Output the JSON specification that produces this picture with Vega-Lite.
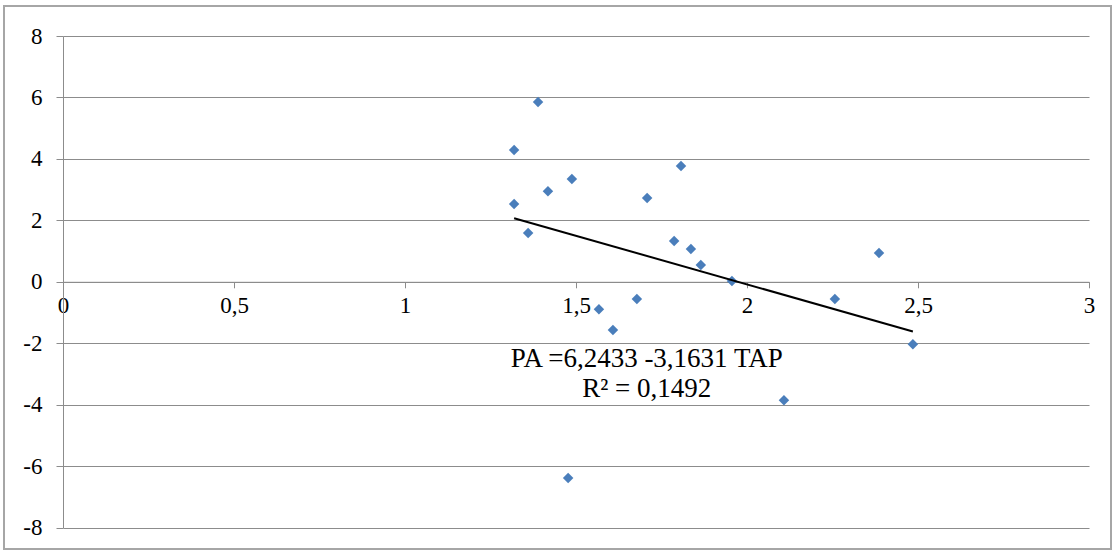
{
  "$schema": "https://vega.github.io/schema/vega-lite/v6.json",
  "autosize": "none",
  "width": 1107,
  "height": 543,
  "padding": {"left": 4, "top": 6, "right": 2, "bottom": 6},
  "background": "white",
  "config": {
    "view": {"stroke": "#a6a6a6", "strokeWidth": 2},
    "font": "Liberation Serif"
  },
  "datasets": {
    "points": [
      {"TAP": 1.319, "PA": 4.29},
      {"TAP": 1.389, "PA": 5.85},
      {"TAP": 1.319, "PA": 2.53},
      {"TAP": 1.418, "PA": 2.95},
      {"TAP": 1.488, "PA": 3.35},
      {"TAP": 1.360, "PA": 1.59},
      {"TAP": 1.708, "PA": 2.73},
      {"TAP": 1.807, "PA": 3.77},
      {"TAP": 1.787, "PA": 1.33},
      {"TAP": 1.836, "PA": 1.07},
      {"TAP": 1.865, "PA": 0.55},
      {"TAP": 1.956, "PA": 0.03},
      {"TAP": 1.567, "PA": -0.89},
      {"TAP": 1.608, "PA": -1.57},
      {"TAP": 1.678, "PA": -0.56},
      {"TAP": 2.257, "PA": -0.56},
      {"TAP": 2.386, "PA": 0.94},
      {"TAP": 2.485, "PA": -2.03},
      {"TAP": 2.108, "PA": -3.85},
      {"TAP": 1.477, "PA": -6.38}
    ],
    "trend": [
      {"TAP": 1.319, "PA": 2.071},
      {"TAP": 2.485, "PA": -1.617}
    ]
  },
  "layer": [
    {
      "data": {"name": "points"},
      "mark": {"type": "point", "shape": "diamond", "filled": true, "size": 110, "color": "#4a7ebb", "opacity": 1},
      "encoding": {
        "x": {
          "field": "TAP",
          "type": "quantitative",
          "scale": {"domain": [0, 3], "range": [59, 1085], "nice": false, "zero": false},
          "axis": {
            "orient": "bottom",
            "offset": -267.2,
            "values": [0, 0.5, 1, 1.5, 2, 2.5, 3],
            "grid": false,
            "domainColor": "#8c8c8c",
            "domainWidth": 1,
            "tickColor": "#8c8c8c",
            "tickSize": 6,
            "labelFont": "Liberation Serif",
            "labelFontSize": 23,
            "labelColor": "black",
            "labelPadding": 7,
            "labelFlush": false,
            "labelOverlap": false,
            "labelExpr": "replace(toString(datum.value), '.', ',')",
            "title": null
          }
        },
        "y": {
          "field": "PA",
          "type": "quantitative",
          "scale": {"domain": [-8, 8], "range": [521.7, 30], "nice": false, "zero": false},
          "axis": {
            "orient": "left",
            "offset": -59,
            "values": [-8, -6, -4, -2, 0, 2, 4, 6, 8],
            "grid": true,
            "gridColor": "#8c8c8c",
            "gridWidth": 1,
            "domainColor": "#8c8c8c",
            "domainWidth": 1,
            "tickColor": "#8c8c8c",
            "tickSize": 7,
            "labelFont": "Liberation Serif",
            "labelFontSize": 23,
            "labelColor": "black",
            "labelPadding": 14,
            "labelOverlap": false,
            "labelExpr": "toString(datum.value)",
            "title": null
          }
        }
      }
    },
    {
      "data": {"name": "trend"},
      "mark": {"type": "line", "color": "black", "strokeWidth": 2},
      "encoding": {
        "x": {"field": "TAP", "type": "quantitative"},
        "y": {"field": "PA", "type": "quantitative"}
      }
    },
    {
      "data": {"values": [{}]},
      "mark": {"type": "text", "font": "Liberation Serif", "fontSize": 27, "color": "black", "align": "center", "baseline": "middle", "lineHeight": 30},
      "encoding": {
        "x": {"datum": 1.707},
        "y": {"datum": -2.51},
        "text": {"value": ["PA =6,2433 -3,1631 TAP", "R² = 0,1492"]}
      }
    }
  ]
}
